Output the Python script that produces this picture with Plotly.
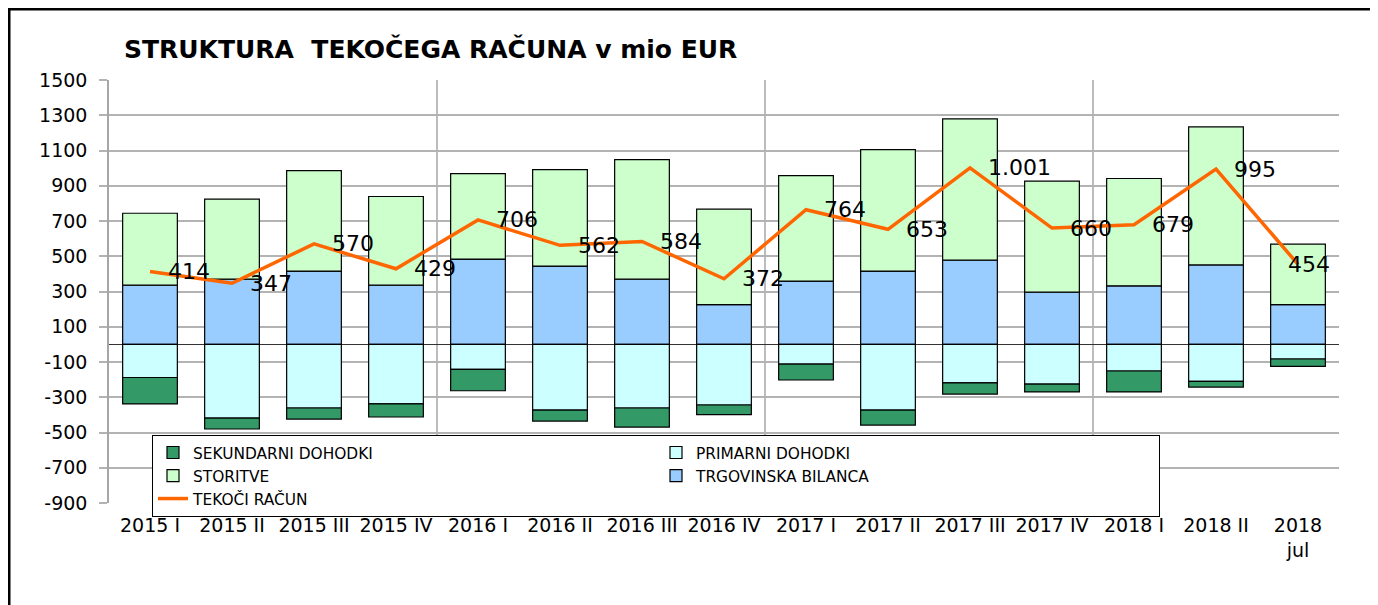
import plotly.graph_objects as go

categories = ["2015 I", "2015 II", "2015 III", "2015 IV", "2016 I", "2016 II", "2016 III",
              "2016 IV", "2017 I", "2017 II", "2017 III", "2017 IV", "2018 I", "2018 II",
              "2018<br>jul"]
trgovinska = [336, 370, 416, 336, 484, 444, 370, 225, 359, 416, 478, 296, 332, 451, 225]
storitve = [408, 454, 570, 503, 485, 548, 678, 542, 599, 689, 801, 630, 609, 783, 344]
primarni = [-188, -418, -361, -338, -142, -373, -361, -344, -112, -373, -219, -225, -151, -210, -83]
sekundarni = [-150, -62, -63, -74, -121, -62, -108, -55, -90, -85, -63, -45, -119, -32, -42]
tekoci = [414, 347, 570, 429, 706, 562, 584, 372, 764, 653, 1001, 660, 679, 995, 454]
y_tick_vals = [-900, -700, -500, -300, -100, 100, 300, 500, 700, 900, 1100, 1300, 1500]
y_tick_text = ["-900", "-700", "-500", "-300", "-100", "100", "300", "500", "700", "900",
               "1100", "1300", "1500"]
label_shift = [16] * 14 + [-12]

FONT = "DejaVu Sans"
OFF = 8  # page body margin
W, H = 1378 - OFF, 605 - OFF
L, R, T, B = 109 - OFF, 39, 80 - OFF, 102
PW, PH = W - L - R, H - T - B

fig = go.Figure()
bar_style = dict(width=0.667)
fig.add_bar(x=categories, y=trgovinska, name="TRGOVINSKA BILANCA", legendrank=4,
            marker=dict(color="#99CCFF", line=dict(color="#000000", width=1.2)), **bar_style)
fig.add_bar(x=categories, y=storitve, name="STORITVE", legendrank=3,
            marker=dict(color="#CCFFCC", line=dict(color="#000000", width=1.2)), **bar_style)
fig.add_bar(x=categories, y=primarni, name="PRIMARNI DOHODKI", legendrank=2,
            marker=dict(color="#CCFFFF", line=dict(color="#000000", width=1.2)), **bar_style)
fig.add_bar(x=categories, y=sekundarni, name="SEKUNDARNI DOHODKI", legendrank=1,
            marker=dict(color="#339966", line=dict(color="#000000", width=1.2)), **bar_style)
fig.add_scatter(x=categories, y=tekoci, name="TEKOČI RAČUN", legendrank=5, mode="lines",
                line=dict(color="#FF6600", width=3.5))

for c, v, s in zip(categories, tekoci, label_shift):
    fig.add_annotation(x=c, y=v, xref="x", yref="y", text=f"{v:,}".replace(",", "."),
                       showarrow=False, xanchor="left", yanchor="middle", xshift=s,
                       font=dict(family=FONT, size=22, color="#000000"))

# vertical year separators
for xv in [3.5, 7.5, 11.5]:
    fig.add_shape(type="line", xref="x", yref="paper", x0=xv, x1=xv, y0=0, y1=1,
                  line=dict(color="#a6a6a6", width=1.5), layer="below")

# outer frame (top and left edges visible)
fig.add_shape(type="line", xref="paper", yref="paper",
              x0=(0 - L) / PW, x1=(W + 5 - L) / PW,
              y0=1 + (T - 1) / PH, y1=1 + (T - 1) / PH,
              line=dict(color="#000000", width=3))
fig.add_shape(type="line", xref="paper", yref="paper",
              x0=(1 - L) / PW, x1=(1 - L) / PW,
              y0=1 + T / PH, y1=-(B + 5) / PH,
              line=dict(color="#000000", width=3))

fig.update_layout(
    width=W, height=H,
    margin=dict(l=L, r=R, t=T, b=B),
    barmode="relative",
    paper_bgcolor="white", plot_bgcolor="white",
    font=dict(family=FONT, color="#000000"),
    title=dict(text="STRUKTURA\u00a0\u00a0TEKOČEGA RAČUNA v mio EUR", xref="container",
               x=(124 - OFF) / W, xanchor="left", y=1 - (49 - OFF) / H, yanchor="middle",
               font=dict(family=FONT, size=25, color="#000000", weight="bold")),
    showlegend=True,
    legend=dict(orientation="h", traceorder="normal", x=(152 - 109) / PW, xanchor="left",
                y=(503 - 435) / PH, yanchor="top", bgcolor="white",
                bordercolor="#000000", borderwidth=1, entrywidth=458, entrywidthmode="pixels",
                font=dict(family=FONT, size=15.4, color="#000000"), itemwidth=30),
    xaxis=dict(type="category", range=[-0.5, 14.5], showgrid=False, ticks="",
               tickfont=dict(family=FONT, size=19, color="#000000"), ticklabelstandoff=9,
               tickangle=0, showline=False, zeroline=False),
    yaxis=dict(range=[-900, 1500], tickmode="array", tickvals=y_tick_vals, ticktext=y_tick_text,
               showgrid=True, gridcolor="#b3b3b3", gridwidth=1.5, zeroline=True,
               zerolinecolor="#333333", zerolinewidth=1.2, showline=True, linecolor="#a6a6a6",
               linewidth=1.5, ticks="outside", ticklen=8, tickcolor="#b3b3b3", tickwidth=1.5,
               tickfont=dict(family=FONT, size=19, color="#000000"), ticklabelstandoff=8),
)

fig.write_html("out.html")
